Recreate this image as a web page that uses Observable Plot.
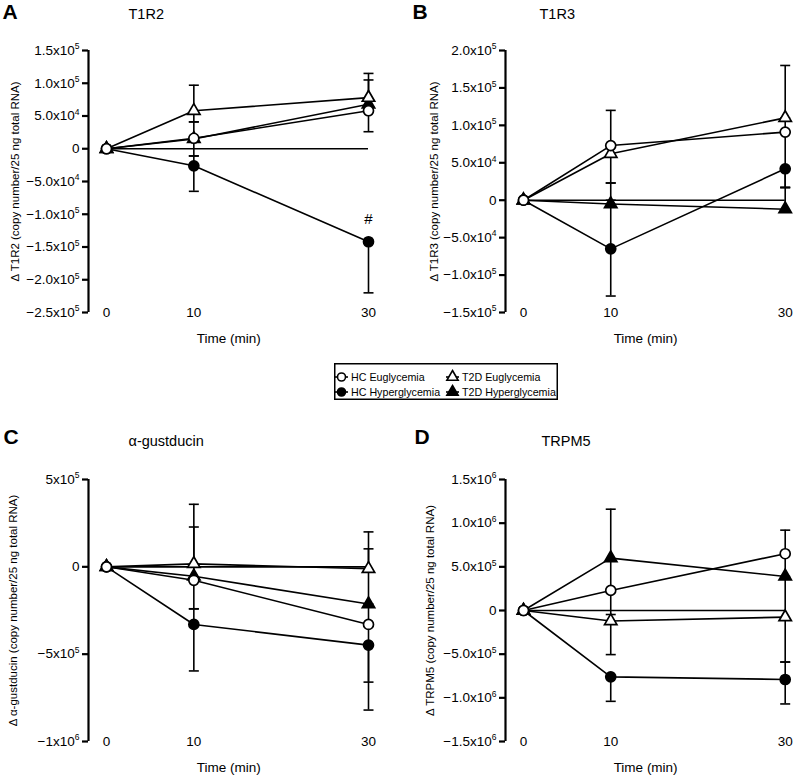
<!DOCTYPE html>
<html>
<head>
<meta charset="utf-8">
<script src="https://cdn.jsdelivr.net/npm/d3@7"></script>
<script src="https://cdn.jsdelivr.net/npm/@observablehq/plot@0.6"></script>
<style>
  body { margin: 0; background: #fff; font-family: "Liberation Sans", Arial, sans-serif; }
  #wrap { position: relative; width: 794px; height: 775px; background: #fff; }
  .panel { position: absolute; }
  #legend { position: absolute; left: 334px; top: 363px; }
</style>
</head>
<body>
<div id="wrap"></div>
<script>
// ---------- shared ----------
const times = [0, 10, 30];
const xTickValues = [0, 10, 30];
const xLabel = "Time (min)";
const groups = ["HC Euglycemia", "HC Hyperglycemia", "T2D Euglycemia", "T2D Hyperglycemia"];
const groupSymbol = ["circle", "circle", "triangle", "triangle"];
const groupFill = ["white", "black", "white", "black"];

// ---------- Panel A : T1R2 ----------
const A_letter = "A";
const A_title = "T1R2";
const A_ylabel = "\u0394 T1R2 (copy number/25 ng total RNA)";
const A_ticks = [-250000, -200000, -150000, -100000, -50000, 0, 50000, 100000, 150000];
const A_tickLabels = ["\u22122.5x10^5", "\u22122.0x10^5", "\u22121.5x10^5", "\u22121.0x10^5", "\u22125.0x10^4", "0", "5.0x10^4", "1.0x10^5", "1.5x10^5"];
const A_HCEu = [0, 16000, 58000],    A_HCEu_up = [0, 25000, 0],     A_HCEu_dn = [0, 27000, 32000];
const A_HCHy = [0, -26000, -142000], A_HCHy_up = [0, 15000, 0],     A_HCHy_dn = [0, 39000, 78000];
const A_T2Eu = [0, 58000, 78000],    A_T2Eu_up = [0, 39000, 37000], A_T2Eu_dn = [0, 17000, 0];
const A_T2Hy = [0, 15000, 68000],    A_T2Hy_up = [0, 0, 37000],     A_T2Hy_dn = [0, 0, 0];
const A_mark = ["#"]; // significance mark, HC Hyperglycemia at 30 min

// ---------- Panel B : T1R3 ----------
const B_letter = "B";
const B_title = "T1R3";
const B_ylabel = "\u0394 T1R3 (copy number/25 ng total RNA)";
const B_ticks = [-150000, -100000, -50000, 0, 50000, 100000, 150000, 200000];
const B_tickLabels = ["\u22121.5x10^5", "\u22121.0x10^5", "\u22125.0x10^4", "0", "5.0x10^4", "1.0x10^5", "1.5x10^5", "2.0x10^5"];
const B_HCEu = [0, 73000, 91000],    B_HCEu_up = [0, 47000, 19000], B_HCEu_dn = [0, 0, 74000];
const B_HCHy = [0, -65000, 42000],   B_HCHy_up = [0, 65000, 0],     B_HCHy_dn = [0, 63000, 25000];
const B_T2Eu = [0, 62000, 110000],   B_T2Eu_up = [0, 0, 70000],     B_T2Eu_dn = [0, 39000, 0];
const B_T2Hy = [0, -5000, -12000],   B_T2Hy_up = [0, 28000, 29000], B_T2Hy_dn = [0, 0, 0];

// ---------- Panel C : alpha-gustducin ----------
const C_letter = "C";
const C_title = "\u03b1-gustducin";
const C_ylabel = "\u0394 \u03b1-gustducin (copy number/25 ng total RNA)";
const C_ticks = [-1000000, -500000, 0, 500000];
const C_tickLabels = ["\u22121x10^6", "\u22125x10^5", "0", "5x10^5"];
const C_HCEu = [0, -77000, -330000],  C_HCEu_up = [0, 305000, 117000], C_HCEu_dn = [0, 164000, 330000];
const C_HCHy = [0, -330000, -448000], C_HCHy_up = [0, 90000, 0],       C_HCHy_dn = [0, 266000, 372000];
const C_T2Eu = [0, 17000, -11000],    C_T2Eu_up = [0, 341000, 211000], C_T2Eu_dn = [0, 0, 0];
const C_T2Hy = [0, -54000, -213000],  C_T2Hy_up = [0, 0, 316000],      C_T2Hy_dn = [0, 0, 0];

// ---------- Panel D : TRPM5 ----------
const D_letter = "D";
const D_title = "TRPM5";
const D_ylabel = "\u0394 TRPM5 (copy number/25 ng total RNA)";
const D_ticks = [-1500000, -1000000, -500000, 0, 500000, 1000000, 1500000];
const D_tickLabels = ["\u22121.5x10^6", "\u22121.0x10^6", "\u22125.0x10^5", "0", "5.0x10^5", "1.0x10^6", "1.5x10^6"];
const D_HCEu = [0, 230000, 650000],   D_HCEu_up = [0, 0, 270000],      D_HCEu_dn = [0, 276000, 260000];
const D_HCHy = [0, -760000, -790000], D_HCHy_up = [0, 0, 200000],      D_HCHy_dn = [0, 280000, 280000];
const D_T2Eu = [0, -120000, -76000],  D_T2Eu_up = [0, 0, 0],           D_T2Eu_dn = [0, 385000, 0];
const D_T2Hy = [0, 600000, 390000],   D_T2Hy_up = [0, 560000, 0],      D_T2Hy_dn = [0, 370000, 980000];

// ---------- helpers ----------
function rows(groupIndex, mean, up, dn) {
  return times.map((t, i) => ({
    group: groups[groupIndex], gi: groupIndex, t, v: mean[i], up: up[i], dn: dn[i]
  }));
}
function errorRows(data) {
  const out = [];
  for (const d of data) {
    if (d.up > 0) out.push({t: d.t, v: d.v, end: d.v + d.up});
    if (d.dn > 0) out.push({t: d.t, v: d.v, end: d.v - d.dn});
  }
  return out;
}
const capSymbol = {
  draw(ctx) { ctx.moveTo(-5, 0); ctx.lineTo(5, 0); }
};

function addSuperscripts(svg) {
  d3.select(svg).selectAll("text").each(function() {
    const s = this.textContent;
    if (s.includes("^")) {
      const [base, exp] = s.split("^");
      const sel = d3.select(this);
      sel.text(base);
      sel.append("tspan").attr("dy", "-5.5").attr("font-size", "8.5px").text(exp);
    }
  });
}

function panel(cfg) {
  const {left, top, marginTop, height, marginLeft, marginRight, ydom, ticks, tickLabels, series,
         letter, title, ylabel, letterDx, titleDx, letterBase, titleBase, extra} = cfg;
  const width = 397, marginBottom = 34;
  const xmin = -18 * 30 / (width - marginLeft - marginRight - 18);
  const labelMap = new Map(ticks.map((t, i) => [t, tickLabels[i]]));
  const all = series.flat();
  const errs = errorRows(all);
  const order = [3, 2, 1, 0];
  const dotMarks = order.map(gi => Plot.dot(all.filter(d => d.gi === gi), {
    x: "t", y: "v", symbol: () => groupSymbol[gi], r: groupSymbol[gi] === "circle" ? 5 : 4.6,
    fill: groupFill[gi], stroke: "black", strokeWidth: 1.7
  }));
  const chart = Plot.plot({
    width, height, marginTop, marginBottom, marginLeft, marginRight,
    style: {fontFamily: "'Liberation Sans', Arial, sans-serif", fontSize: "13.5px", color: "black", background: "white"},
    x: {domain: [xmin, 30], axis: null},
    y: {domain: ydom, axis: null},
    marks: [
      Plot.ruleX([xmin], {y1: ydom[0], y2: ydom[1], strokeWidth: 2.2}),
      Plot.axisY({ticks, tickFormat: d => labelMap.get(d), tickSize: 6, tickPadding: 3,
                  strokeWidth: 2.2, fontSize: 13.5, label: null}),
      Plot.text(xTickValues, {x: d => d, y: ydom[0], text: d => String(d), fontSize: 13.5}),
      Plot.text([xLabel], {x: () => 14, y: ydom[0], dy: 26, text: d => d, fontSize: 13.5}),
      Plot.text([ylabel], {frameAnchor: "left", text: d => d, rotate: -90, dx: cfg.ylabelDx,
                           fontSize: 11.5, textAnchor: "middle", lineAnchor: "middle"}),
      Plot.text([letter], {frameAnchor: "top-left", text: d => d, dx: letterDx, dy: letterBase - marginTop,
                           textAnchor: "start", lineAnchor: "bottom", fontSize: 21, fontWeight: "bold"}),
      Plot.text([title], {frameAnchor: "top-left", text: d => d, dx: titleDx, dy: titleBase - marginTop,
                          textAnchor: "start", lineAnchor: "bottom", fontSize: 14.5}),
      Plot.ruleY([0], {x1: 0, x2: 30, strokeWidth: 1.6}),
      Plot.line(all, {x: "t", y: "v", z: "group", stroke: "black", strokeWidth: 1.6}),
      Plot.ruleX(errs, {x: "t", y1: "v", y2: "end", stroke: "black", strokeWidth: 1.6}),
      Plot.dot(errs, {x: "t", y: "end", symbol: () => capSymbol, r: 5, stroke: "black", strokeWidth: 1.6, fill: "none"}),
      ...dotMarks,
      ...(extra || [])
    ]
  });
  addSuperscripts(chart);
  const holder = document.createElement("div");
  holder.className = "panel";
  holder.style.left = left + "px";
  holder.style.top = top + "px";
  holder.appendChild(chart);
  document.getElementById("wrap").appendChild(holder);
}

const seriesA = [rows(0, A_HCEu, A_HCEu_up, A_HCEu_dn), rows(1, A_HCHy, A_HCHy_up, A_HCHy_dn),
                 rows(2, A_T2Eu, A_T2Eu_up, A_T2Eu_dn), rows(3, A_T2Hy, A_T2Hy_up, A_T2Hy_dn)];
const seriesB = [rows(0, B_HCEu, B_HCEu_up, B_HCEu_dn), rows(1, B_HCHy, B_HCHy_up, B_HCHy_dn),
                 rows(2, B_T2Eu, B_T2Eu_up, B_T2Eu_dn), rows(3, B_T2Hy, B_T2Hy_up, B_T2Hy_dn)];
const seriesC = [rows(0, C_HCEu, C_HCEu_up, C_HCEu_dn), rows(1, C_HCHy, C_HCHy_up, C_HCHy_dn),
                 rows(2, C_T2Eu, C_T2Eu_up, C_T2Eu_dn), rows(3, C_T2Hy, C_T2Hy_up, C_T2Hy_dn)];
const seriesD = [rows(0, D_HCEu, D_HCEu_up, D_HCEu_dn), rows(1, D_HCHy, D_HCHy_up, D_HCHy_dn),
                 rows(2, D_T2Eu, D_T2Eu_up, D_T2Eu_dn), rows(3, D_T2Hy, D_T2Hy_up, D_T2Hy_dn)];

panel({left: 0, top: 0, marginTop: 50, height: 346, marginLeft: 88, marginRight: 29, ydom: [-250000, 150000],
       ticks: A_ticks, tickLabels: A_tickLabels, series: seriesA,
       letter: A_letter, title: A_title, ylabel: A_ylabel, ylabelDx: -73,
       letterDx: -86, titleDx: 40, letterBase: 18.5, titleBase: 18,
       extra: [Plot.text(seriesA[1].filter(d => d.t === 30), {x: "t", y: "v", text: () => A_mark[0], dy: -23, fontSize: 15})]});
panel({left: 397, top: 0, marginTop: 50, height: 346, marginLeft: 108, marginRight: 9.3, ydom: [-150000, 200000],
       ticks: B_ticks, tickLabels: B_tickLabels, series: seriesB,
       letter: B_letter, title: B_title, ylabel: B_ylabel, ylabelDx: -71,
       letterDx: -93, titleDx: 34, letterBase: 18.5, titleBase: 18.3});
panel({left: 0, top: 420, marginTop: 59, height: 355, marginLeft: 88, marginRight: 29, ydom: [-1000000, 500000],
       ticks: C_ticks, tickLabels: C_tickLabels, series: seriesC,
       letter: C_letter, title: C_title, ylabel: C_ylabel, ylabelDx: -75,
       letterDx: -85, titleDx: 40, letterBase: 23, titleBase: 25.5});
panel({left: 397, top: 420, marginTop: 59, height: 355, marginLeft: 108, marginRight: 9.3, ydom: [-1500000, 1500000],
       ticks: D_ticks, tickLabels: D_tickLabels, series: seriesD,
       letter: D_letter, title: D_title, ylabel: D_ylabel, ylabelDx: -75,
       letterDx: -91, titleDx: 36, letterBase: 23, titleBase: 25.5});

// ---------- legend ----------
const legendCols = [1, 112];
const legendRows = [14, 29];
(function legend() {
  const W = 224, H = 37;
  const svg = d3.create("svg").attr("width", W).attr("height", H)
    .attr("font-family", "'Liberation Sans', Arial, sans-serif").attr("font-size", 10.7);
  svg.append("rect").attr("x", 0.75).attr("y", 0.75).attr("width", W - 1.5).attr("height", H - 1.5)
    .attr("fill", "white").attr("stroke", "black").attr("stroke-width", 1.5);
  groups.forEach((g, gi) => {
    const col = gi < 2 ? 0 : 1;
    const row = gi % 2;
    const grp = svg.append("g").attr("transform", `translate(${legendCols[col]},${legendRows[row]})`);
    grp.append("line").attr("x1", 0).attr("x2", 13).attr("y1", 0).attr("y2", 0)
      .attr("stroke", "black").attr("stroke-width", 1.6);
    const sym = groupSymbol[gi] === "circle" ? d3.symbolCircle : d3.symbolTriangle;
    grp.append("path").attr("transform", "translate(6.5,0)")
      .attr("d", d3.symbol(sym, groupSymbol[gi] === "circle" ? 50 : 55)())
      .attr("fill", groupFill[gi]).attr("stroke", "black").attr("stroke-width", 1.6);
    grp.append("text").attr("x", 16).attr("y", 0).attr("dy", "0.36em").text(g);
  });
  const div = document.createElement("div");
  div.id = "legend";
  div.appendChild(svg.node());
  document.getElementById("wrap").appendChild(div);
})();
</script>
</body>
</html>
